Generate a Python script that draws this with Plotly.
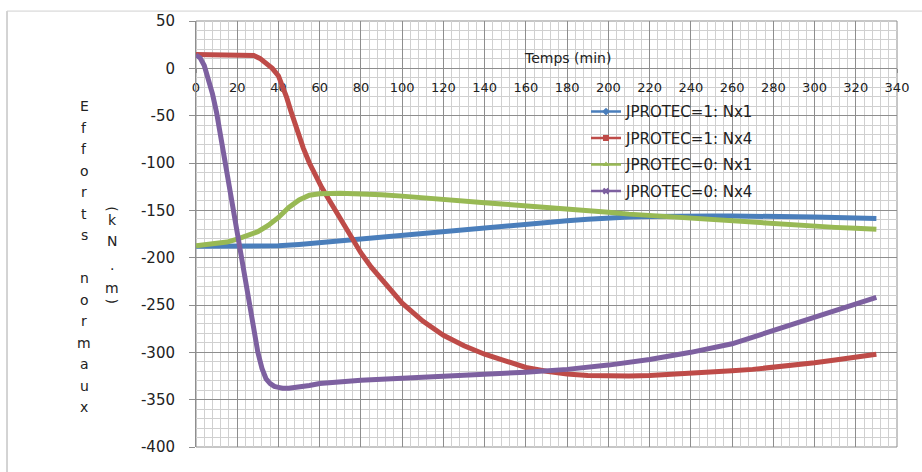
import plotly.graph_objects as go

# ---------------- data ----------------
series_names = ["JPROTEC=1: Nx1", "JPROTEC=1: Nx4", "JPROTEC=0: Nx1", "JPROTEC=0: Nx4"]

t_blue = [0, 10, 20, 30, 40, 50, 60, 70, 80, 90, 100, 110, 120, 130, 140, 150, 160, 170,
          180, 190, 200, 210, 220, 230, 240, 250, 260, 270, 280, 290, 300, 310, 320, 330]
v_blue = [-188, -188, -188, -188, -187.5, -186, -184, -182, -180, -178, -176, -174, -172,
          -170, -168, -166, -164.5, -163, -161, -159.5, -158, -157, -156.5, -156, -156,
          -156, -156, -156, -156.5, -157, -157, -157.5, -158, -158.5]

t_red = [0, 5, 10, 15, 20, 25, 28, 31, 34, 37, 40, 42, 44, 46, 48, 50, 52, 55, 58, 61, 64,
         67, 70, 75, 80, 85, 90, 95, 100, 110, 120, 130, 140, 150, 160, 170, 180, 190, 200,
         210, 220, 230, 240, 250, 260, 270, 280, 290, 300, 310, 320, 330]
v_red = [14.5, 14.5, 14.5, 14.5, 14.5, 14.5, 13.5, 10.5, 5.5, 0, -8, -18, -31, -45, -59,
         -72, -84, -100, -114, -126, -137, -148, -159, -178, -195, -210, -223, -236, -248,
         -267, -282, -293, -302, -309, -316, -320, -323, -324.5, -325, -325, -324.5, -323.5,
         -322.5, -321, -319.5, -318, -316, -313.5, -311, -308, -305, -302]

t_green = [0, 5, 10, 15, 20, 25, 30, 35, 40, 45, 50, 55, 60, 70, 80, 90, 100, 110, 120, 130,
           140, 150, 160, 170, 180, 190, 200, 210, 220, 230, 240, 250, 260, 270, 280, 290,
           300, 310, 320, 330]
v_green = [-187.5, -186.5, -185.5, -183.5, -180.5, -177, -172.5, -166, -157.5, -147, -139,
           -134, -132.5, -132, -132.5, -133.5, -135, -137, -139, -140.5, -142, -143.5, -145,
           -147, -148.5, -150, -152, -154, -155.5, -157, -158.5, -160, -161.5, -163, -164.5,
           -166, -167, -168, -169, -170]

t_purple = [0, 2, 4, 6, 8, 10, 12, 14, 16, 18, 20, 22, 24, 26, 28, 30, 32, 34, 36, 38, 40,
            42, 45, 50, 55, 60, 70, 80, 90, 100, 120, 140, 160, 180, 200, 220, 240, 260, 280,
            300, 320, 330]
v_purple = [14, 11, 3, -11, -27, -47, -72, -96, -121, -146, -171, -196, -222, -250, -278,
            -300, -317, -328, -333, -336, -337, -338, -338, -337, -335, -333, -331, -329.5,
            -328.5, -327.5, -325.5, -323.5, -321, -318, -313.5, -307.5, -300, -291, -277,
            -262, -249, -242]

x_ticks = list(range(0, 341, 20))
x_labels = [str(v) for v in x_ticks]
y_ticks = list(range(-400, 51, 50))
y_labels = [str(v) for v in y_ticks]

colors = ["#4A7EBB", "#BE4B48", "#98B954", "#7D60A0"]
symbols = ["diamond", "square", "triangle-up", "x"]

# ---------------- geometry helpers (layout only) ----------------
W, H = 922, 472
L, R, T, B = 196, 25, 17, 25
PW, PH = W - L - R, H - T - B


def px(xp):
    return (xp - L) / PW


def py(yp):
    return (H - B - yp) / PH


FONT = "DejaVu Sans"
TXT = "#222222"
fig = go.Figure()

data = [(t_blue, v_blue), (t_red, v_red), (t_green, v_green), (t_purple, v_purple)]
for (t, v), c, n in zip(data, colors, series_names):
    fig.add_trace(go.Scatter(x=t, y=v, mode="lines", line=dict(color=c, width=5),
                             name=n, showlegend=False))

for i, (c, n, s) in enumerate(zip(colors, series_names, symbols)):
    fig.add_trace(go.Scatter(x=[None], y=[None], mode="lines+markers", name=n,
                             line=dict(color=c, width=2.5),
                             marker=dict(symbol=s, size=6, color=c),
                             legendgroup=str(i), showlegend=True))


def label(text, x, y, size=14, angle=0):
    return dict(text=text, x=px(x), y=py(y), xref="paper", yref="paper",
                xanchor="center", yanchor="middle", showarrow=False, textangle=angle,
                borderpad=0, font=dict(family=FONT, size=size, color=TXT))


annotations = [label("Temps (min)", 567, 54, 14)]

title1 = "Efforts normaux"
for i, ch in enumerate(title1):
    if ch.strip():
        annotations.append(label(ch, 84, 103 + 21.7 * i, 14))

title2 = [("(", 206, 90), ("k", 218, 0), ("N", 239, 0), (".", 263, 0), ("m", 287, 0),
          (")", 299, 90)]
for ch, yy, ang in title2:
    annotations.append(label(ch, 112, yy, 14, ang))

shapes = [
    dict(type="rect", xref="paper", yref="paper", x0=0, x1=1, y0=0, y1=1,
         line=dict(color="#8E8E8E", width=1), layer="below"),
    dict(type="line", xref="paper", yref="paper", x0=px(7), x1=px(7), y0=py(7), y1=py(480),
         line=dict(color="#A8A8A8", width=1)),
    dict(type="line", xref="paper", yref="paper", x0=px(7), x1=px(930), y0=py(7), y1=py(7),
         line=dict(color="#D0D0D0", width=1)),
]

fig.update_layout(
    width=W, height=H,
    margin=dict(l=L, r=R, t=T, b=B, pad=0),
    paper_bgcolor="white", plot_bgcolor="white",
    font=dict(family=FONT, size=14, color=TXT),
    xaxis=dict(range=[0, 340], tickvals=x_ticks, ticktext=x_labels, showgrid=True,
               gridcolor="#8E8E8E", gridwidth=1,
               minor=dict(dtick=4, tick0=0, showgrid=True, gridcolor="#D0D0D0"),
               anchor="free", position=400 / 450, ticks="outside", ticklen=4,
               tickcolor="#8E8E8E", showline=True, linecolor="#8E8E8E", zeroline=False,
               layer="below traces", ticklabelstandoff=3,
               tickfont=dict(family=FONT, size=13, color=TXT)),
    yaxis=dict(range=[-400, 50], tickvals=y_ticks, ticktext=y_labels, showgrid=True,
               gridcolor="#8E8E8E", gridwidth=1,
               minor=dict(dtick=10, tick0=0, showgrid=True, gridcolor="#D0D0D0"),
               ticks="outside", ticklen=6, tickcolor="#8E8E8E", showline=True,
               linecolor="#8E8E8E", zeroline=False, ticklabelstandoff=11,
               tickfont=dict(family=FONT, size=15, color=TXT)),
    legend=dict(x=px(586), y=py(92), xanchor="left", yanchor="top",
                bgcolor="rgba(0,0,0,0)", traceorder="grouped", tracegroupgap=4,
                font=dict(family=FONT, size=15, color=TXT)),
    annotations=annotations,
    shapes=shapes,
)

fig.write_html("out.html", config={"displayModeBar": False},
               post_script="document.body.style.margin='0';document.body.style.padding='0';")
